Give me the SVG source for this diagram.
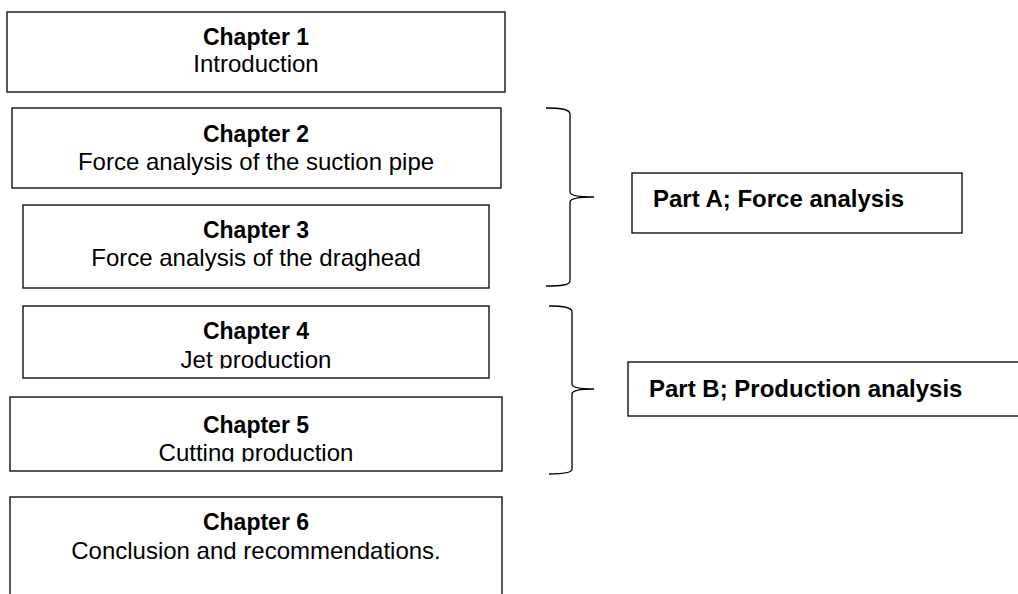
<svg xmlns="http://www.w3.org/2000/svg" width="1018" height="594" viewBox="0 0 1018 594">
<style>
.box{fill:#fff;stroke:#000;stroke-width:1.3}
.brace{fill:none;stroke:#000;stroke-width:1.3}
.t{font-family:"Liberation Sans",Arial,sans-serif;font-size:24px;fill:#000;text-anchor:middle}
.b{font-weight:bold;font-size:23px}
.p{font-family:"Liberation Sans",Arial,sans-serif;font-size:24px;font-weight:bold;fill:#000}
</style>
<defs>
<clipPath id="c4"><rect x="23" y="300" width="466" height="68.5"/></clipPath>
<clipPath id="c5"><rect x="10" y="390" width="492" height="71.7"/></clipPath>
</defs>
<rect width="1018" height="594" fill="#fff"/>
<g id="ch1"><rect class="box" x="7" y="12" width="498" height="80"/><text class="t b" x="256" y="45">Chapter 1</text><text class="t" x="256" y="72">Introduction</text></g>
<g id="ch2"><rect class="box" x="12" y="108" width="489" height="80"/><text class="t b" x="256" y="141.5">Chapter 2</text><text class="t" x="256" y="169.5">Force analysis of the suction pipe</text></g>
<g id="ch3"><rect class="box" x="23" y="205" width="466" height="83"/><text class="t b" x="256" y="238">Chapter 3</text><text class="t" x="256" y="266">Force analysis of the draghead</text></g>
<g id="ch4"><rect class="box" x="23" y="306" width="466" height="72"/><g clip-path="url(#c4)"><text class="t b" x="256" y="339">Chapter 4</text><text class="t" x="256" y="368">Jet production</text></g></g>
<g id="ch5"><rect class="box" x="10" y="397" width="492" height="74"/><g clip-path="url(#c5)"><text class="t b" x="256" y="433">Chapter 5</text><text class="t" x="256" y="460.5">Cutting production</text></g></g>
<g id="ch6"><rect class="box" x="10" y="497" width="492" height="120"/><text class="t b" x="256" y="530">Chapter 6</text><text class="t" x="256" y="559">Conclusion and recommendations.</text></g>
<g id="partA"><rect class="box" x="632" y="173" width="330" height="60"/><text class="p" x="653" y="206.5">Part A; Force analysis</text></g>
<g id="partB"><rect class="box" x="628" y="362" width="400" height="54"/><text class="p" x="649" y="397">Part B; Production analysis</text></g>
<g id="connectors">
<path class="brace" d="M546,108 C561,108 570,109 570,114 L570,192 C570,195.5 580,197 594,197 C580,197 570,198.5 570,202 L570,281 C570,285 561,286 546,286"/>
<path class="brace" d="M549,306 C563,306 572,307 572,312 L572,384 C572,387.5 582,389 594,389 C582,389 572,390.5 572,394 L572,469 C572,473 563,474 549,474"/>
</g>
</svg>
